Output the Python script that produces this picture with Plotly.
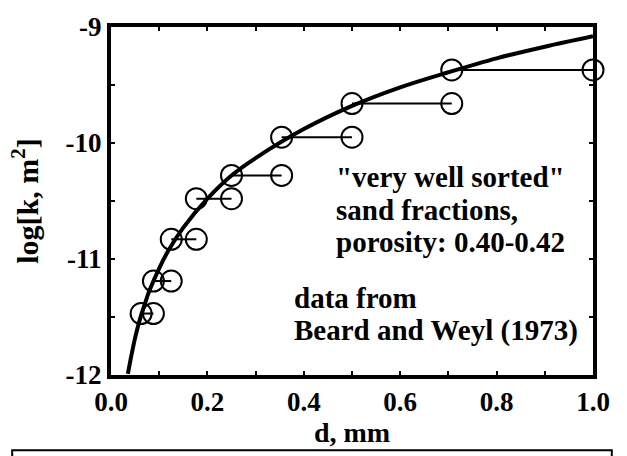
import plotly.graph_objects as go

# Beard and Weyl (1973) sieve fractions: lower / upper grain size (mm) and log permeability
d_lower = [0.0625, 0.088, 0.125, 0.177, 0.25, 0.354, 0.5, 0.707]
d_upper = [0.088, 0.125, 0.177, 0.25, 0.354, 0.5, 0.707, 1.0]
log_k = [-11.47, -11.19, -10.83, -10.48, -10.28, -9.95, -9.66, -9.37]

# model curve
curve_d = [0.035, 0.04, 0.05, 0.06, 0.07, 0.08, 0.1, 0.12, 0.15, 0.2, 0.25, 0.3,
           0.4, 0.5, 0.6, 0.7, 0.8, 0.9, 1.0]
curve_logk = [-11.99, -11.88, -11.68, -11.52, -11.39, -11.27, -11.08, -10.92, -10.73,
              -10.48, -10.28, -10.13, -9.88, -9.68, -9.52, -9.39, -9.27, -9.17, -9.08]

x_ticks = [0.0, 0.2, 0.4, 0.6, 0.8, 1.0]
x_tick_labels = ["0.0", "0.2", "0.4", "0.6", "0.8", "1.0"]
y_ticks = [-12, -11, -10, -9]
y_tick_labels = ["-12", "-11", "-10", "-9"]

note_lines = ["\"very well sorted\"", "sand fractions,", "porosity: 0.40-0.42"]
source_lines = ["data from", "Beard and Weyl (1973)"]

FONT = "Liberation Serif"

fig = go.Figure()

for lo, hi, y in zip(d_lower, d_upper, log_k):
    fig.add_trace(go.Scatter(
        x=[lo, hi], y=[y, y], mode="lines+markers",
        line=dict(color="black", width=2),
        marker=dict(symbol="circle-open", size=21, color="black", line=dict(width=2)),
        showlegend=False, cliponaxis=False, hoverinfo="skip"))

fig.add_trace(go.Scatter(
    x=curve_d, y=curve_logk, mode="lines", line=dict(color="black", width=4, shape="spline"),
    showlegend=False, hoverinfo="skip"))

for i, line in enumerate(note_lines):
    fig.add_annotation(
        x=0.463, y=-10.297 - 0.28 * i, xref="x", yref="y", xanchor="left", yanchor="middle",
        text=f"<b>{line}</b>", showarrow=False,
        font=dict(family=FONT, size=29, color="black"))

for i, line in enumerate(source_lines):
    fig.add_annotation(
        x=0.376, y=-11.335 - 0.28 * i, xref="x", yref="y", xanchor="left", yanchor="middle",
        text=f"<b>{line}</b>", showarrow=False,
        font=dict(family=FONT, size=29, color="black"))

# partial box at the bottom of the image
fig.add_shape(type="rect", xref="paper", yref="paper",
              x0=-0.205, x1=1.039, y0=-0.216, y1=-0.30,
              line=dict(color="black", width=2), layer="above")

axis_common = dict(
    showline=True, linecolor="black", linewidth=4, mirror="ticks",
    ticks="inside", ticklen=4, tickwidth=2, tickcolor="black",
    showgrid=False, zeroline=False,
    tickfont=dict(family=FONT, size=27, color="black"),
)

fig.update_xaxes(
    range=[0, 1.0], tickvals=x_ticks, ticktext=[f"<b>{t}</b>" for t in x_tick_labels],
    minor=dict(dtick=0.1, ticks="inside", ticklen=4, tickwidth=2, tickcolor="black"),
    title=dict(text="<b>d, mm</b>", font=dict(family=FONT, size=28, color="black"), standoff=2),
    **axis_common)
fig.update_yaxes(
    range=[-12, -9], tickvals=y_ticks, ticktext=[f"<b>{t}</b>" for t in y_tick_labels],
    minor=dict(dtick=0.5, ticks="inside", ticklen=4, tickwidth=2, tickcolor="black"),
    title=dict(text="<b>log[k, m<sup>2</sup>]</b>", font=dict(family=FONT, size=30, color="black"), standoff=19),
    **axis_common)

fig.update_layout(
    width=627, height=456,
    margin=dict(l=111, r=34, t=14, b=81),
    plot_bgcolor="white", paper_bgcolor="white",
    showlegend=False,
)

fig.write_html("out.html")
